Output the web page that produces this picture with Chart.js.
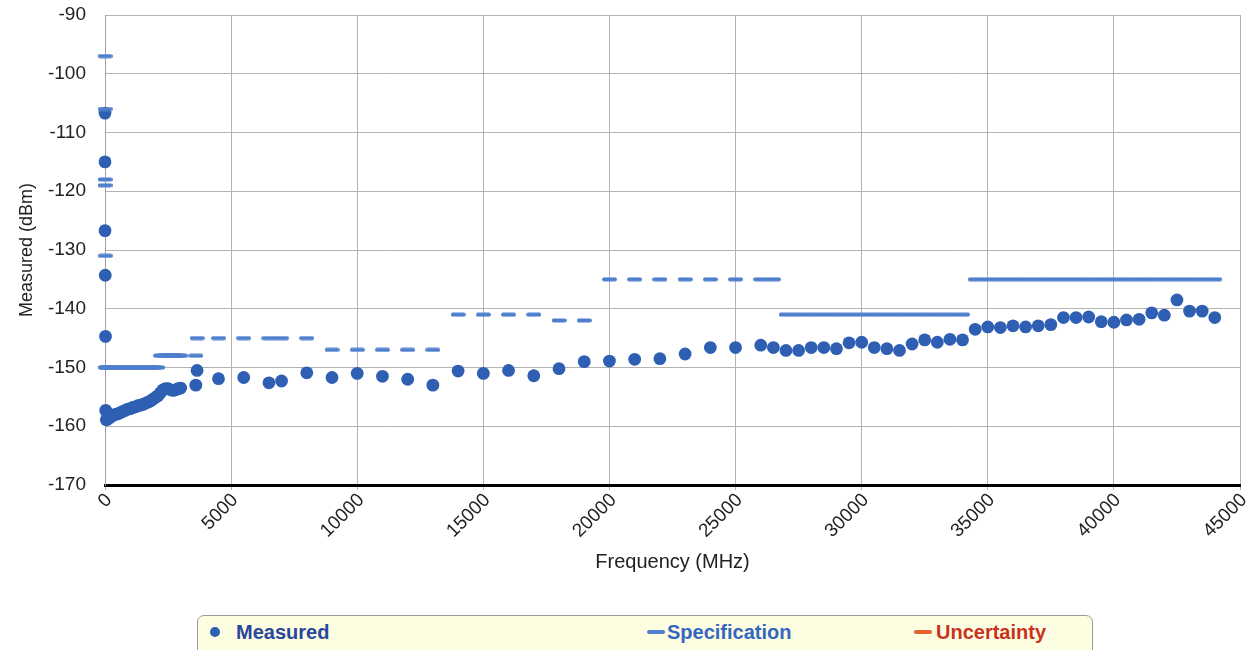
<!DOCTYPE html>
<html>
<head>
<meta charset="utf-8">
<script src="https://cdn.jsdelivr.net/npm/chart.js@4.4.1/dist/chart.umd.min.js"></script>
<style>
  html, body { margin: 0; padding: 0; background: #ffffff; overflow: hidden; }
  #wrap { position: relative; width: 1249px; height: 650px; }
  #chart { position: absolute; left: 0; top: 0; }
  #legendBox { position: absolute; left: 197px; top: 615px; width: 894px; height: 46px;
    border: 1.5px solid #9a9a9a; border-radius: 7px; background: #fdfde2; }
  .lg { position: absolute; font-family: "Liberation Sans", Arial, sans-serif; font-weight: bold;
    font-size: 20px; line-height: 22px; top: 621px; white-space: nowrap; }
  .mk { position: absolute; }
</style>
</head>
<body>
<div id="wrap">
  <canvas id="chart" width="1249" height="650"></canvas>
  <div id="legendBox"></div>
  <div class="mk" style="left:210px;top:627px;width:10px;height:10px;border-radius:50%;background:#2e5fb2;"></div>
  <div class="lg" style="left:236px;color:#27479a;">Measured</div>
  <div class="mk" style="left:647px;top:630px;width:18px;height:4px;border-radius:2px;background:#4f7fcc;"></div>
  <div class="lg" style="left:667px;color:#3567c0;">Specification</div>
  <div class="mk" style="left:914px;top:630px;width:18px;height:4px;border-radius:2px;background:#e8602a;"></div>
  <div class="lg" style="left:936px;color:#c8331e;">Uncertainty</div>
</div>
<script>
// ---- Data ----
const measuredFreq = [0.009, 0.15, 1, 10, 20, 30, 50, 100, 200, 300, 400, 500, 600, 700, 800, 900,
  1000, 1100, 1200, 1300, 1400, 1500, 1600, 1700, 1800, 1900, 2000, 2100, 2200, 2300, 2400, 2500,
  2600, 2700, 2800, 2900, 3000, 3600, 3650, 4500, 5500, 6500, 7000, 8000, 9000, 10000, 11000, 12000,
  13000, 14000, 15000, 16000, 17000, 18000, 19000, 20000, 21000, 22000, 23000, 24000, 25000,
  26000, 26500, 27000, 27500, 28000, 28500, 29000, 29500, 30000, 30500, 31000, 31500, 32000, 32500,
  33000, 33500, 34000, 34500, 35000, 35500, 36000, 36500, 37000, 37500, 38000, 38500, 39000, 39500,
  40000, 40500, 41000, 41500, 42000, 42500, 43000, 43500, 44000];
const measuredValues = [-106.7, -115.0, -126.7, -134.3, -144.7, -157.3, -158.9, -158.8, -158.5, -158.2,
  -158.0, -157.9, -157.7, -157.5, -157.3, -157.1, -157.0, -156.8, -156.7, -156.5, -156.4, -156.3,
  -156.1, -155.9, -155.7, -155.4, -155.1, -154.8, -154.3, -153.8, -153.6, -153.6, -153.8, -153.9,
  -153.8, -153.6, -153.5, -153.0, -150.5, -151.9, -151.7, -152.6, -152.3, -150.9, -151.7, -151.0,
  -151.5, -152.0, -153.0, -150.6, -151.0, -150.5, -151.4, -150.2, -149.0, -148.9, -148.6, -148.5,
  -147.7, -146.6, -146.6,
  -146.2, -146.6, -147.1, -147.1, -146.6, -146.6, -146.8, -145.8, -145.7, -146.6, -146.8, -147.1,
  -146.0, -145.3, -145.7, -145.2, -145.3, -143.5, -143.1, -143.2, -142.9, -143.1, -142.9, -142.7,
  -141.5, -141.5, -141.4, -142.2, -142.3, -141.9, -141.8, -140.7, -141.1, -138.5, -140.4, -140.4, -141.5];

const specFreq = [0.009, 0.15, 1, 1.5, 10, 20, 30, 50, 100, 200, 300, 400, 500, 600, 700, 800, 900,
  1000, 1100, 1200, 1300, 1400, 1500, 1600, 1700, 1800, 1900, 2000, 2100,
  2200, 2300, 2400, 2500, 2600, 2700, 2800, 2900, 3000, 3600,
  3650, 4500, 5500, 6500, 7000, 8000,
  9000, 10000, 11000, 12000, 13000,
  14000, 15000, 16000, 17000, 18000, 19000,
  20000, 21000, 22000, 23000, 24000, 25000, 26000, 26500,
  27000, 27500, 28000, 28500, 29000, 29500, 30000, 30500, 31000, 31500, 32000, 32500, 33000, 33500, 34000,
  34500, 35000, 35500, 36000, 36500, 37000, 37500, 38000, 38500, 39000, 39500,
  40000, 40500, 41000, 41500, 42000, 42500, 43000, 43500, 44000];
const specValues = [-97, -106, -118, -119, -131, -150, -150, -150, -150, -150, -150, -150, -150, -150,
  -150, -150, -150, -150, -150, -150, -150, -150, -150, -150, -150, -150, -150, -150, -150,
  -148, -148, -148, -148, -148, -148, -148, -148, -148, -148,
  -145, -145, -145, -145, -145, -145,
  -147, -147, -147, -147, -147,
  -141, -141, -141, -141, -142, -142,
  -135, -135, -135, -135, -135, -135, -135, -135,
  -141, -141, -141, -141, -141, -141, -141, -141, -141, -141, -141, -141, -141, -141, -141,
  -135, -135, -135, -135, -135, -135, -135, -135, -135, -135, -135,
  -135, -135, -135, -135, -135, -135, -135, -135, -135];

const uncertaintyFreq = [];
const uncertaintyValues = [];

const yTicks = [-170, -160, -150, -140, -130, -120, -110, -100, -90];
const xTicks = [0, 5000, 10000, 15000, 20000, 25000, 30000, 35000, 40000, 45000];

// ---- Styles ----
const MEAS_COLOR = '#2e5fb2';
const SPEC_COLOR = '#4f7fcc';
const UNC_COLOR = '#e8602a';
const FONT = '"Liberation Sans", Arial, sans-serif';

const toPts = (xs, ys) => xs.map((x, i) => ({ x: x, y: ys[i] }));

const dash = (() => {
  const c = document.createElement('canvas');
  c.width = 15; c.height = 5;
  const g = c.getContext('2d');
  g.fillStyle = SPEC_COLOR;
  g.beginPath();
  if (g.roundRect) g.roundRect(0, 0.5, 15, 4, 2); else g.rect(0, 0.5, 15, 4);
  g.fill();
  return c;
})();

new Chart(document.getElementById('chart'), {
  type: 'scatter',
  data: {
    datasets: [
      { label: 'Specification', data: toPts(specFreq, specValues), pointStyle: dash, clip: false,
        pointRadius: 7, backgroundColor: SPEC_COLOR, borderColor: SPEC_COLOR, showLine: false },
      { label: 'Measured', data: toPts(measuredFreq, measuredValues), pointStyle: 'circle', clip: false,
        pointRadius: 6.4, borderWidth: 0, backgroundColor: MEAS_COLOR, borderColor: MEAS_COLOR, showLine: false },
      { label: 'Uncertainty', data: toPts(uncertaintyFreq, uncertaintyValues), pointStyle: 'line', clip: false,
        pointRadius: 7, borderWidth: 4, backgroundColor: UNC_COLOR, borderColor: UNC_COLOR, showLine: false }
    ]
  },
  options: {
    responsive: false,
    animation: false,
    layout: { padding: { left: 0, top: 15, right: 9, bottom: 0 } },
    plugins: { legend: { display: false }, tooltip: { enabled: false } },
    scales: {
      x: {
        type: 'linear', min: 0, max: 45000,
        afterBuildTicks: (s) => { s.ticks = xTicks.map(v => ({ value: v })); },
        afterFit: (s) => { s.height = 165; s.paddingLeft = 0; s.paddingRight = 0; },
        ticks: { font: { family: FONT, size: 19 }, color: '#222', minRotation: 45, maxRotation: 45, padding: -1,
          labelOffset: 4, callback: (v) => String(v) },
        grid: { color: '#b3b3b3', lineWidth: 1, tickLength: 5, drawTicks: true },
        border: { color: '#000000', width: 3 },
        title: { display: true, text: 'Frequency (MHz)', font: { family: FONT, size: 20 }, color: '#222',
          padding: { top: 0, bottom: 76 } }
      },
      y: {
        type: 'linear', min: -170, max: -90,
        afterBuildTicks: (s) => { s.ticks = yTicks.map(v => ({ value: v })); },
        afterFit: (s) => { s.width = 105; s.paddingTop = 0; s.paddingBottom = 0; },
        ticks: { font: { family: FONT, size: 19 }, color: '#222', padding: 19, callback: (v) => String(v) },
        grid: { color: '#b3b3b3', lineWidth: 1, drawTicks: false },
        border: { color: '#a0a0a0', width: 1 },
        title: { display: true, text: 'Measured (dBm)', font: { family: FONT, size: 18 }, color: '#222',
          padding: { top: 16, bottom: 0 } }
      }
    }
  }
});
</script>
</body>
</html>
